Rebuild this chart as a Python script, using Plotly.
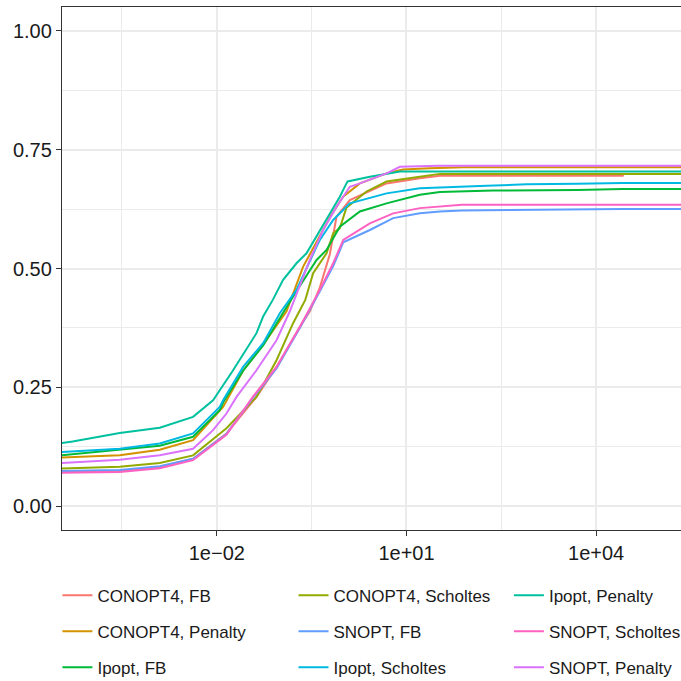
import numpy as np
import plotly.graph_objects as go

# ---- data: x given as log10 exponents, y as cumulative share ----
conopt4_fb_x = [-4.6, -3.535, -2.902, -2.375, -1.847, -1.372, -1.055, -0.687, -0.528, -0.370, -0.212, -0.106, 0.104, 0.685, 1.212, 1.528, 4.42, 4.43, 5.5]
conopt4_fb_y = [0.072, 0.074, 0.083, 0.100, 0.153, 0.230, 0.293, 0.377, 0.410, 0.460, 0.530, 0.609, 0.644, 0.679, 0.690, 0.695, 0.695, 0.699, 0.699]

conopt4_penalty_x = [-4.6, -3.535, -2.902, -2.375, -1.900, -1.584, -1.267, -1.055, -0.897, -0.634, -0.400, -0.200, -0.002, 0.263, 0.685, 0.943, 1.370, 1.900, 5.5]
conopt4_penalty_y = [0.102, 0.107, 0.119, 0.139, 0.209, 0.285, 0.340, 0.380, 0.410, 0.504, 0.560, 0.610, 0.651, 0.679, 0.700, 0.708, 0.711, 0.713, 0.713]

conopt4_scholtes_x = [-4.6, -3.535, -2.902, -2.375, -1.847, -1.372, -1.055, -0.793, -0.600, -0.476, -0.264, -0.159, -0.054, 0.051, 0.368, 0.685, 1.212, 1.528, 5.5]
conopt4_scholtes_y = [0.079, 0.083, 0.091, 0.107, 0.164, 0.230, 0.307, 0.385, 0.434, 0.490, 0.532, 0.574, 0.585, 0.628, 0.662, 0.683, 0.693, 0.699, 0.699]

ipopt_fb_x = [-4.6, -3.535, -2.902, -2.375, -1.953, -1.900, -1.584, -1.267, -1.003, -0.793, -0.422, -0.264, -0.054, 0.263, 0.685, 1.212, 1.528, 2.370, 3.700, 4.420, 5.5]
ipopt_fb_y = [0.105, 0.118, 0.127, 0.146, 0.202, 0.218, 0.285, 0.338, 0.395, 0.441, 0.518, 0.539, 0.588, 0.620, 0.637, 0.655, 0.661, 0.664, 0.665, 0.667, 0.667]

ipopt_penalty_x = [-4.6, -4.280, -3.535, -2.902, -2.375, -2.059, -1.747, -1.372, -1.267, -1.114, -0.951, -0.739, -0.581, -0.422, -0.212, -0.054, 0.051, 0.070, 0.421, 0.900, 5.5]
ipopt_penalty_y = [0.130, 0.136, 0.154, 0.165, 0.188, 0.223, 0.285, 0.364, 0.399, 0.434, 0.476, 0.511, 0.532, 0.567, 0.616, 0.651, 0.679, 0.683, 0.693, 0.704, 0.704]

ipopt_scholtes_x = [-4.6, -3.535, -2.902, -2.375, -1.953, -1.900, -1.584, -1.267, -1.003, -0.739, -0.422, -0.370, -0.159, 0.104, 0.685, 1.212, 2.270, 2.900, 3.700, 4.420, 5.5]
ipopt_scholtes_y = [0.113, 0.121, 0.132, 0.153, 0.209, 0.223, 0.293, 0.343, 0.406, 0.455, 0.546, 0.560, 0.602, 0.637, 0.658, 0.669, 0.674, 0.677, 0.678, 0.680, 0.680]

snopt_fb_x = [-4.6, -3.535, -2.902, -2.375, -1.847, -1.430, -1.055, -0.687, -0.370, -0.159, 0.000, 0.421, 0.790, 1.212, 1.528, 1.877, 4.420, 5.5]
snopt_fb_y = [0.074, 0.076, 0.084, 0.100, 0.152, 0.228, 0.290, 0.375, 0.452, 0.505, 0.555, 0.581, 0.606, 0.616, 0.620, 0.622, 0.625, 0.625]

snopt_penalty_x = [-4.6, -3.535, -2.902, -2.375, -2.059, -1.847, -1.688, -1.372, -1.055, -0.845, -0.528, -0.318, -0.106, 0.104, 0.263, 0.685, 0.896, 1.500, 5.5]
snopt_penalty_y = [0.090, 0.098, 0.107, 0.121, 0.160, 0.195, 0.230, 0.286, 0.349, 0.410, 0.518, 0.581, 0.630, 0.672, 0.679, 0.700, 0.714, 0.716, 0.716]

snopt_scholtes_x = [-4.6, -3.535, -2.902, -2.375, -1.847, -1.430, -1.055, -0.687, -0.370, -0.159, 0.000, 0.421, 0.790, 1.212, 1.877, 5.5]
snopt_scholtes_y = [0.070, 0.072, 0.080, 0.097, 0.150, 0.230, 0.293, 0.377, 0.455, 0.511, 0.560, 0.595, 0.616, 0.627, 0.634, 0.634]

series_names = ["CONOPT4, FB", "CONOPT4, Penalty", "CONOPT4, Scholtes",
                "Ipopt, FB", "Ipopt, Penalty", "Ipopt, Scholtes",
                "SNOPT, FB", "SNOPT, Penalty", "SNOPT, Scholtes"]
series_x = [conopt4_fb_x, conopt4_penalty_x, conopt4_scholtes_x,
            ipopt_fb_x, ipopt_penalty_x, ipopt_scholtes_x,
            snopt_fb_x, snopt_penalty_x, snopt_scholtes_x]
series_y = [conopt4_fb_y, conopt4_penalty_y, conopt4_scholtes_y,
            ipopt_fb_y, ipopt_penalty_y, ipopt_scholtes_y,
            snopt_fb_y, snopt_penalty_y, snopt_scholtes_y]
colors = ["#F8766D", "#D39200", "#93AA00", "#00BA38", "#00C19F",
          "#00B9E3", "#619CFF", "#DB72FB", "#FF61C3"]
# legend column for each series (column-major layout as in the reference)
legend_ids = ["legend", "legend", "legend2", "legend", "legend3",
              "legend2", "legend2", "legend3", "legend3"]
legend_rank = [1, 2, 1, 3, 1, 3, 2, 3, 2]

x_tick_vals = [1e-2, 1e1, 1e4]
x_tick_text = ["1e\u221202", "1e+01", "1e+04"]
y_tick_vals = [0, 0.25, 0.5, 0.75, 1.0]
y_tick_text = ["0.00", "0.25", "0.50", "0.75", "1.00"]

fig = go.Figure()
for name, xs, ys, c, lg, rk in zip(series_names, series_x, series_y, colors, legend_ids, legend_rank):
    fig.add_trace(go.Scatter(
        x=10 ** np.array(xs), y=ys, mode="lines", name=name,
        line=dict(color=c, width=2), legend=lg, legendrank=rk,
        legendgroup=name,
    ))

font_family = "Liberation Sans, Arial, sans-serif"
legend_common = dict(orientation="v", yanchor="top", y=-0.091, xanchor="left",
                     bgcolor="rgba(0,0,0,0)", font=dict(size=17, color="#1a1a1a", family=font_family),
                     tracegroupgap=11, itemwidth=30)

fig.update_layout(
    width=681, height=681,
    margin=dict(l=62, r=0, t=7, b=151, autoexpand=False),
    paper_bgcolor="white", plot_bgcolor="white",
    font=dict(family=font_family, color="#1a1a1a"),
    legend=dict(x=-0.0074, **legend_common),
    legend2=dict(x=0.374, **legend_common),
    legend3=dict(x=0.722, **legend_common),
    xaxis=dict(
        type="log", range=[-4.448, 5.342],
        tickmode="array", tickvals=x_tick_vals, ticktext=x_tick_text,
        tickfont=dict(size=20, color="#1a1a1a"),
        ticks="outside", ticklen=5, tickcolor="#333333", tickwidth=1.3,
        showgrid=True, gridcolor="#EBEBEB", gridwidth=1.5,
        minor=dict(tickmode="array", tickvals=[10 ** -3.5, 10 ** -0.5, 10 ** 2.5],
                   showgrid=True, gridcolor="#EBEBEB", gridwidth=1.0, ticks=""),
        showline=True, linecolor="#333333", linewidth=1.3, mirror=True,
        zeroline=False,
    ),
    yaxis=dict(
        range=[-0.05, 1.05],
        tickmode="array", tickvals=y_tick_vals, ticktext=y_tick_text,
        tickfont=dict(size=20, color="#1a1a1a"),
        ticks="outside", ticklen=5, tickcolor="#333333", tickwidth=1.3,
        showgrid=True, gridcolor="#EBEBEB", gridwidth=1.5,
        minor=dict(tickmode="array", tickvals=[0.125, 0.375, 0.625, 0.875],
                   showgrid=True, gridcolor="#EBEBEB", gridwidth=1.0, ticks=""),
        showline=True, linecolor="#333333", linewidth=1.3, mirror=False,
        zeroline=False,
    ),
)

fig.write_html("out.html")
